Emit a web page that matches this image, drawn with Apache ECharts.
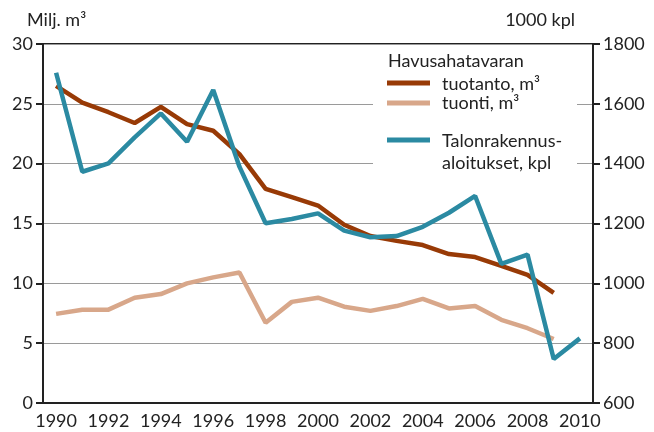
<!DOCTYPE html>
<html><head><meta charset="utf-8">
<script src="https://cdn.jsdelivr.net/npm/echarts@6/dist/echarts.min.js"></script>
<style>html,body{margin:0;padding:0;background:#fff}#c{width:654px;height:432px}</style>
</head><body><div id="c"></div>
<script>
const years = ['1990','1991','1992','1993','1994','1995','1996','1997','1998','1999','2000','2001','2002','2003','2004','2005','2006','2007','2008','2009','2010'];
const tuotanto = [26.5,25.1,24.3,23.4,24.75,23.3,22.75,20.8,17.9,17.2,16.5,14.9,13.95,13.55,13.2,12.45,12.2,11.45,10.7,9.2,null];
const tuonti = [7.45,7.8,7.8,8.8,9.1,10.0,10.5,10.9,6.7,8.45,8.8,8.05,7.7,8.1,8.7,7.9,8.1,6.95,6.25,5.35,null];
const aloitukset = [1704,1373,1401,1488,1568,1473,1646,1390,1201,1215,1234,1176,1154,1158,1189,1236,1292,1065,1096,747,816];
const leftTicks = [0,30,5];
const rightTicks = [600,1800,200];

const FONT = 'Lato';
const TXT = '#222';
const cBrown = '#983a06', cTan = '#d8a78a', cBlue = '#2b8aa2';
const chart = echarts.init(document.getElementById('c'));
chart.setOption({
  animation:false,
  textStyle:{fontFamily:FONT},
  grid:{left:43,right:61,top:44,bottom:29,show:true,borderColor:'#222',borderWidth:2,backgroundColor:'transparent'},
  xAxis:{type:'category',data:years,boundaryGap:true,
    axisLine:{lineStyle:{color:'#222',width:2}},
    axisTick:{alignWithLabel:true,interval:0,length:7,lineStyle:{color:'#222',width:2}},
    axisLabel:{interval:1,color:TXT,fontSize:18,fontFamily:FONT,margin:9},
    splitLine:{show:false}},
  yAxis:[
    {type:'value',min:leftTicks[0],max:leftTicks[1],interval:leftTicks[2],position:'left',
     axisLine:{show:true,lineStyle:{color:'#222',width:2}},
     axisTick:{show:true,length:7,lineStyle:{color:'#222',width:2}},
     axisLabel:{color:TXT,fontSize:18,fontFamily:FONT,margin:10,formatter:v=>String(v)},
     splitLine:{show:true,lineStyle:{color:'#9a9a9a',width:1}}},
    {type:'value',min:rightTicks[0],max:rightTicks[1],interval:rightTicks[2],position:'right',
     axisLine:{show:true,lineStyle:{color:'#222',width:2}},
     axisTick:{show:true,length:7,lineStyle:{color:'#222',width:2}},
     axisLabel:{color:TXT,fontSize:18,fontFamily:FONT,margin:10,formatter:v=>String(v)},
     splitLine:{show:false}}
  ],
  series:[
    {name:'tuonti, m³',type:'line',yAxisIndex:0,data:tuonti,symbol:'none',lineStyle:{color:cTan,width:4.5},itemStyle:{color:cTan},z:3},
    {name:'tuotanto, m³',type:'line',yAxisIndex:0,data:tuotanto,symbol:'none',lineStyle:{color:cBrown,width:4.5},itemStyle:{color:cBrown},z:4},
    {name:'Talonrakennusaloitukset, kpl',type:'line',yAxisIndex:1,data:aloitukset,symbol:'none',lineStyle:{color:cBlue,width:4.5},itemStyle:{color:cBlue},z:5}
  ],
  graphic:[
    {type:'rect',shape:{x:373,y:47,width:204,height:138},style:{fill:'#fff'},z:1},
    {type:'text',left:27,top:11,style:{text:'Milj. m³',font:'18px '+FONT,fill:TXT},z:10},
    {type:'text',right:79,top:11,style:{text:'1000 kpl',font:'18px '+FONT,fill:TXT},z:10},
    {type:'text',left:388,top:52,style:{text:'Havusahatavaran',font:'18px '+FONT,fill:TXT},z:10},
    {type:'line',shape:{x1:387,y1:83,x2:430,y2:83},style:{stroke:cBrown,lineWidth:5},z:10},
    {type:'text',left:442,top:75,style:{text:'tuotanto, m³',font:'18px '+FONT,fill:TXT},z:10},
    {type:'line',shape:{x1:387,y1:103,x2:430,y2:103},style:{stroke:cTan,lineWidth:5},z:10},
    {type:'text',left:442,top:94,style:{text:'tuonti, m³',font:'18px '+FONT,fill:TXT},z:10},
    {type:'line',shape:{x1:387,y1:140,x2:430,y2:140},style:{stroke:cBlue,lineWidth:5},z:10},
    {type:'text',left:442,top:132,style:{text:'Talonrakennus-',font:'18px '+FONT,fill:TXT},z:10},
    {type:'text',left:442,top:154,style:{text:'aloitukset, kpl',font:'18px '+FONT,fill:TXT},z:10}
  ]
});
</script></body></html>
